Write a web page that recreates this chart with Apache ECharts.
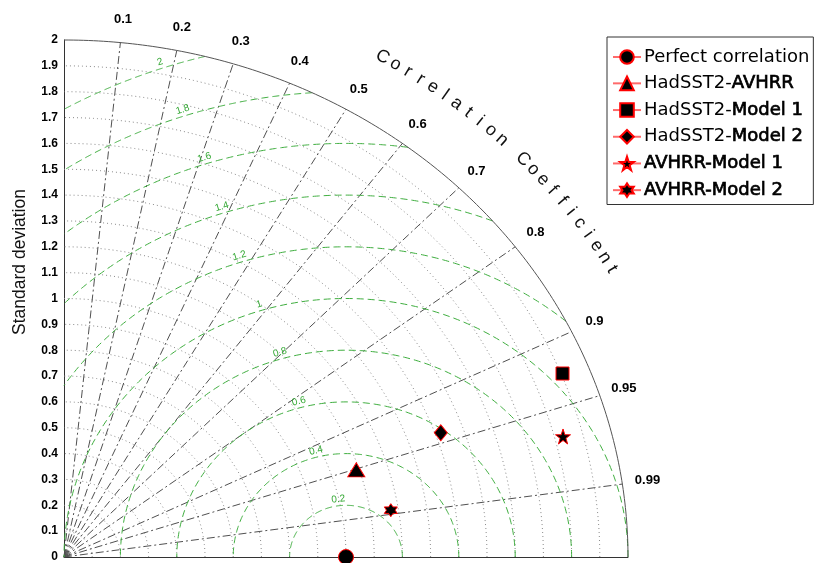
<!DOCTYPE html>
<html>
<head>
<meta charset="utf-8">
<script src="https://cdn.jsdelivr.net/npm/echarts@6/dist/echarts.min.js"></script>
<style>
  html, body { margin: 0; padding: 0; background: #fff; }
  #chart { width: 818px; height: 563px; }
</style>
</head>
<body>
<div id="chart"></div>
<script>
// Taylor diagram: radius = standard deviation, angle = correlation coefficient,
// green dashed arcs = centred RMS difference around the reference point.

const stdArcs = [0.1, 0.2, 0.3, 0.4, 0.5, 0.6, 0.7, 0.8, 0.9, 1.0,
                 1.1, 1.2, 1.3, 1.4, 1.5, 1.6, 1.7, 1.8, 1.9];
const stdMax = 2;
const corrLevels = [0.1, 0.2, 0.3, 0.4, 0.5, 0.6, 0.7, 0.8, 0.9, 0.95, 0.99];
const corrLabels = ['0.1', '0.2', '0.3', '0.4', '0.5', '0.6', '0.7', '0.8', '0.9', '0.95', '0.99'];
const rmsLevels = [0.2, 0.4, 0.6, 0.8, 1, 1.2, 1.4, 1.6, 1.8, 2];
const rmsLabels = ['0.2', '0.4', '0.6', '0.8', '1', '1.2', '1.4', '1.6', '1.8', '2'];
const refStd = 1;

const modelNames = ['Perfect correlation', 'HadSST2-AVHRR', 'HadSST2-Model 1',
                    'HadSST2-Model 2', 'AVHRR-Model 1', 'AVHRR-Model 2'];
const modelStd  = [1.0, 1.09, 1.905, 1.42, 1.83, 1.173];
const modelCorr = [1.0, 0.951, 0.928, 0.941, 0.967, 0.988];

const axisTitle = 'Correlation Coefficient';

// ---- styling / layout constants ----
const FONT = '"Liberation Sans", Arial, Helvetica, sans-serif';
const LEGEND_FONT = '"DejaVu Sans", Verdana, sans-serif';
const rmsLabelAngles = [97, 104.5, 105.5, 106.5, 107.5, 108, 108, 108, 108.5, 109]; // degrees around the reference point
const rmsLabelLift = 0.025;
const corrLabelRadius = 2.09;
const titleRadius = 2.24;
const titleStartDeg = 59.7;
const titleEndDeg = 29.8;

const pentagram = 'path://M50,0 L61.8,35.1 L98.1,35.1 L68.8,56.7 L79.4,90.5 L50,69.1 L20.6,90.5 L31.2,56.7 L1.9,35.1 L38.2,35.1 Z';
const hexagram = 'path://M50,0 L64.4,25 L93.3,25 L78.9,50 L93.3,75 L64.4,75 L50,100 L35.6,75 L6.7,75 L21.1,50 L6.7,25 L35.6,25 Z';
const markerSymbols = ['circle', 'triangle', 'rect', 'diamond', pentagram, hexagram];
const markerSizes = [15, [17, 14], 13, [13, 16], 15, 13];

const deg = Math.PI / 180;
function polar(r, a) { return [r * Math.cos(a), r * Math.sin(a)]; }

// screen-space rotation of the tangent at a point, via two nearby data points
function tangentRotation(api, p0, p1) {
  const a = api.coord(p0), b = api.coord(p1);
  let dx = b[0] - a[0], dy = b[1] - a[1];
  if (dx < 0) { dx = -dx; dy = -dy; }
  return -Math.atan2(dy, dx);
}

const chart = echarts.init(document.getElementById('chart'), null, { renderer: 'canvas' });

function renderGrid(params, api) {
  const children = [];
  // standard deviation arcs (dotted)
  stdArcs.forEach(function (r) {
    const pts = [];
    for (let i = 0; i <= 180; i++) pts.push(api.coord(polar(r, i * 0.5 * deg)));
    children.push({ type: 'polyline', shape: { points: pts },
      style: { stroke: '#8a8a8a', lineWidth: 1, lineDash: [1, 3], fill: null } });
  });
  // correlation rays (dash-dot)
  corrLevels.forEach(function (c) {
    const a = Math.acos(c);
    children.push({ type: 'polyline', shape: { points: [api.coord([0, 0]), api.coord(polar(stdMax, a))] },
      style: { stroke: '#505050', lineWidth: 1, lineDash: [8, 3, 2, 3], fill: null } });
  });
  // centred RMS difference arcs (green dashed), clipped to the quarter disc
  rmsLevels.forEach(function (r, k) {
    const cMax = Math.min(1, (stdMax * stdMax - refStd * refStd - r * r) / (2 * r * refStd));
    const cMin = Math.max(-1, -refStd / r);
    const t0 = Math.acos(cMax), t1 = Math.acos(cMin);
    const pts = [];
    const n = 240;
    for (let i = 0; i <= n; i++) {
      const t = t0 + (t1 - t0) * i / n;
      pts.push(api.coord([refStd + r * Math.cos(t), r * Math.sin(t)]));
    }
    children.push({ type: 'polyline', shape: { points: pts },
      style: { stroke: '#3fae3f', lineWidth: 1, lineDash: [7, 4], fill: null } });
    const la = rmsLabelAngles[k] * deg;
    const rl = r + rmsLabelLift;
    const p = [refStd + rl * Math.cos(la), rl * Math.sin(la)];
    const q = [refStd + rl * Math.cos(la + 0.01), rl * Math.sin(la + 0.01)];
    const xy = api.coord(p);
    children.push({ type: 'text', x: xy[0], y: xy[1], rotation: tangentRotation(api, p, q),
      style: { text: rmsLabels[k], fill: '#34a834', font: '10px ' + FONT, align: 'center', verticalAlign: 'middle' } });
  });
  // outer boundary arc
  const outer = [];
  for (let i = 0; i <= 180; i++) outer.push(api.coord(polar(stdMax, i * 0.5 * deg)));
  children.push({ type: 'polyline', shape: { points: outer },
    style: { stroke: '#555', lineWidth: 1, fill: null } });
  // correlation tick labels
  corrLevels.forEach(function (c, k) {
    const xy = api.coord(polar(corrLabelRadius, Math.acos(c)));
    children.push({ type: 'text', x: xy[0], y: xy[1],
      style: { text: corrLabels[k], fill: '#000', font: 'bold 13px ' + FONT, align: 'center', verticalAlign: 'middle' } });
  });
  // curved axis title, one character at a time
  const chars = axisTitle.split('');
  chars.forEach(function (ch, i) {
    if (ch === ' ') return;
    const a = (titleStartDeg + (titleEndDeg - titleStartDeg) * i / (chars.length - 1)) * deg;
    const p = polar(titleRadius, a), q = polar(titleRadius, a - 0.01);
    const xy = api.coord(p);
    children.push({ type: 'text', x: xy[0], y: xy[1], rotation: tangentRotation(api, p, q),
      style: { text: ch, fill: '#111', font: '18px ' + FONT, align: 'center', verticalAlign: 'middle' } });
  });
  return { type: 'group', children: children };
}

const markerSeries = modelNames.map(function (name, i) {
  const s = modelStd[i], c = modelCorr[i];
  return {
    name: name,
    type: 'line',
    data: [[s * c, s * Math.sqrt(Math.max(0, 1 - c * c))]],
    symbol: markerSymbols[i],
    symbolSize: markerSizes[i],
    showSymbol: true,
    clip: false,
    z: 10,
    itemStyle: { color: '#000', borderColor: '#ff0000', borderWidth: 1 },
    lineStyle: { color: '#ff6a6a', width: 1 },
    emphasis: { disabled: true },
    animation: false
  };
});

function legendText(name) {
  if (name === 'Perfect correlation') return '{r|' + name + '}';
  if (name.indexOf('HadSST2-') === 0) return '{r|HadSST2-}{b|' + name.slice(8) + '}';
  return '{b|' + name + '}';
}

const option = {
  animation: false,
  backgroundColor: '#fff',
  grid: { left: 64, right: 190, top: 40, bottom: 3 },
  xAxis: {
    type: 'value', min: 0, max: stdMax,
    axisLine: { show: true, onZero: false, lineStyle: { color: '#333', width: 1 } },
    axisTick: { show: false }, axisLabel: { show: false }, splitLine: { show: false }
  },
  yAxis: {
    type: 'value', min: 0, max: stdMax, interval: 0.1,
    axisLine: { show: true, lineStyle: { color: '#333', width: 1 } },
    axisTick: { show: false }, splitLine: { show: false },
    axisLabel: { color: '#000', fontWeight: 'bold', fontSize: 12, fontFamily: FONT, margin: 6 }
  },
  legend: {
    orient: 'vertical', left: 607, top: 37,
    padding: [11, 4, 5, 5],
    itemWidth: 28, itemHeight: 17, itemGap: 8,
    borderColor: '#333', borderWidth: 1,
    data: modelNames,
    selectedMode: false,
    formatter: legendText,
    textStyle: {
      color: '#000', fontSize: 18, fontFamily: LEGEND_FONT, padding: [0, 0, 0, -2],
      rich: {
        r: { fontSize: 18, fontFamily: LEGEND_FONT, color: '#000', lineHeight: 18 },
        b: { fontSize: 18, fontFamily: LEGEND_FONT, color: '#000', lineHeight: 18,
             textBorderColor: '#000', textBorderWidth: 0.7 }
      }
    }
  },
  graphic: [{
    type: 'text', x: 20, y: 262, rotation: Math.PI / 2,
    style: { text: 'Standard deviation', fill: '#111', font: '17.5px ' + FONT, align: 'center', verticalAlign: 'middle' }
  }],
  series: [{
    type: 'custom',
    name: 'grid',
    data: [[0, 0]],
    renderItem: renderGrid,
    clip: false,
    silent: true,
    z: 1
  }].concat(markerSeries)
};

chart.setOption(option);
</script>
</body>
</html>
